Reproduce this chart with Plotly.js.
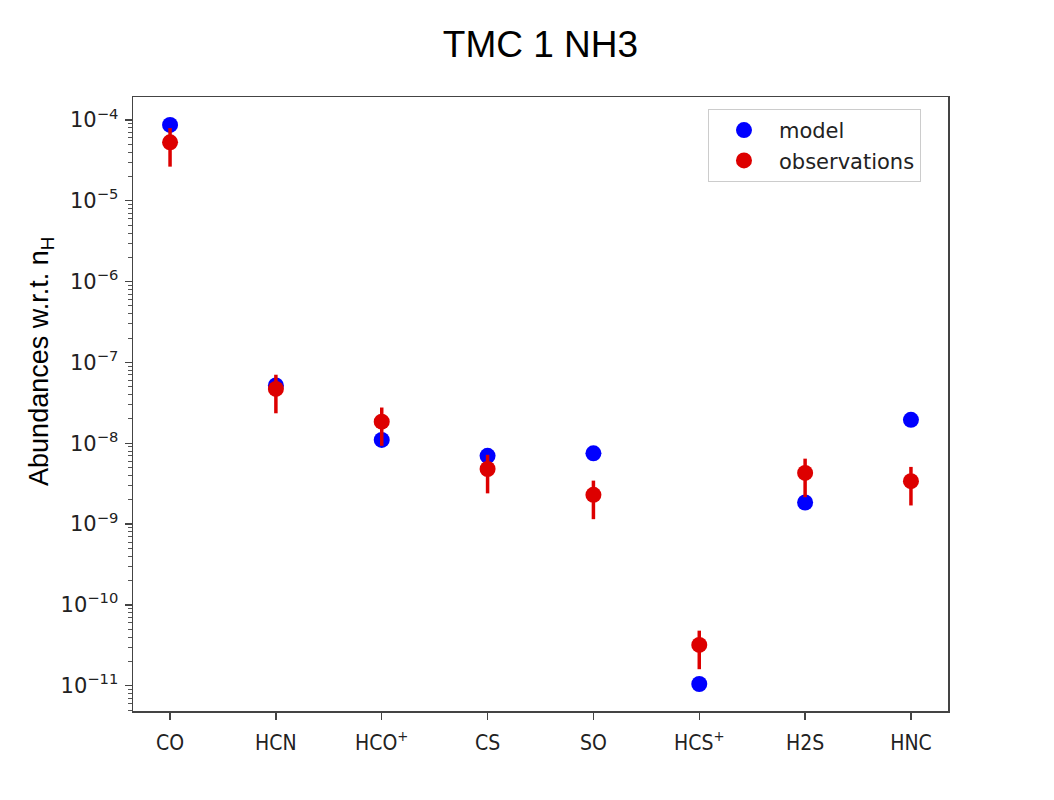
<!DOCTYPE html>
<html>
<head>
<meta charset="utf-8">
<script src="https://cdn.plot.ly/plotly-3.0.1.min.js"></script>
<style>html,body{margin:0;padding:0;background:#fff;}#chart{width:1054px;height:800px;}</style>
</head>
<body>
<div id="chart"></div>
<script>
// Data
const species = ['CO', 'HCN', 'HCO<sup>+</sup>', 'CS', 'SO', 'HCS<sup>+</sup>', 'H2S', 'HNC'];
const modelValues = [8.7e-5, 5.2e-8, 1.1e-8, 7.0e-9, 7.5e-9, 1.05e-11, 1.85e-9, 1.95e-8];
const obsValues = [5.3e-5, 4.7e-8, 1.85e-8, 4.8e-9, 2.3e-9, 3.2e-11, 4.3e-9, 3.4e-9];
const obsErrors = [2.65e-5, 2.35e-8, 0.92e-8, 2.4e-9, 1.15e-9, 1.6e-11, 2.15e-9, 1.7e-9];
const yTickVals = [1e-11, 1e-10, 1e-9, 1e-8, 1e-7, 1e-6, 1e-5, 1e-4];
const yTickText = ['10<sup>\u221211</sup>', '10<sup>\u221210</sup>', '10<sup>\u22129</sup>', '10<sup>\u22128</sup>',
                   '10<sup>\u22127</sup>', '10<sup>\u22126</sup>', '10<sup>\u22125</sup>', '10<sup>\u22124</sup>'];

const xIdx = species.map((_, i) => i);

const minorVals = [];
for (let e = -12; e <= -4; e++) {
  for (let m = 2; m <= 9; m++) minorVals.push(m * Math.pow(10, e));
}

const traces = [
  {
    x: xIdx, y: modelValues, type: 'scatter', mode: 'markers', name: 'model',
    marker: {color: '#0000ff', size: 16}
  },
  {
    x: xIdx, y: obsValues, type: 'scatter', mode: 'markers', name: 'observations',
    marker: {color: '#dd0000', size: 16},
    error_y: {type: 'data', array: obsErrors, visible: true, color: '#dd0000', thickness: 3.5, width: 0}
  }
];

const layout = {
  width: 1054, height: 800,
  paper_bgcolor: '#ffffff', plot_bgcolor: '#ffffff',
  margin: {l: 133, r: 106, t: 97, b: 89},
  title: {
    text: 'TMC 1 NH3', x: 0.5, xref: 'paper', xanchor: 'center',
    y: 0.945, yref: 'container', yanchor: 'middle',
    font: {family: 'Liberation Sans, Arial, sans-serif', size: 37, color: '#000'}
  },
  xaxis: {
    range: [-0.35, 7.35], tickmode: 'array', tickvals: xIdx, ticktext: species,
    showgrid: false, zeroline: false, showline: true, mirror: true,
    linecolor: '#444', linewidth: 1.5, ticks: 'outside', ticklen: 7, tickwidth: 1.3, tickcolor: '#444',
    ticklabelstandoff: 5,
    tickfont: {family: 'DejaVu Sans Condensed, DejaVu Sans, sans-serif', size: 21, color: '#222'}
  },
  yaxis: {
    type: 'log', range: [-11.313, -3.715], tickmode: 'array', tickvals: yTickVals, ticktext: yTickText,
    showgrid: false, zeroline: false, showline: true, mirror: true,
    linecolor: '#444', linewidth: 1.5, ticks: 'outside', ticklen: 7, tickwidth: 1.3, tickcolor: '#444',
    ticklabelstandoff: 2,
    tickfont: {family: 'DejaVu Sans, sans-serif', size: 21, color: '#222'},
    minor: {tickmode: 'array', tickvals: minorVals, ticks: 'outside', ticklen: 4, tickwidth: 1, tickcolor: '#555', showgrid: false}
  },
  legend: {
    x: 0.7055, y: 0.9805, xanchor: 'left', yanchor: 'top',
    bgcolor: '#ffffff', bordercolor: '#cccccc', borderwidth: 1,
    itemwidth: 60, entrywidth: 225, entrywidthmode: 'pixels',
    font: {family: 'DejaVu Sans, sans-serif', size: 21, color: '#222'}
  },
  annotations: [{
    text: 'Abundances w.r.t. n<sub>H</sub>', textangle: -90,
    xref: 'paper', yref: 'paper', x: -0.113, y: 0.57, xanchor: 'center', yanchor: 'middle',
    showarrow: false,
    font: {family: 'Liberation Sans, Arial, sans-serif', size: 27, color: '#000'}
  }],
  showlegend: true
};

Plotly.newPlot('chart', traces, layout, {displayModeBar: false, staticPlot: true});
</script>
</body>
</html>
